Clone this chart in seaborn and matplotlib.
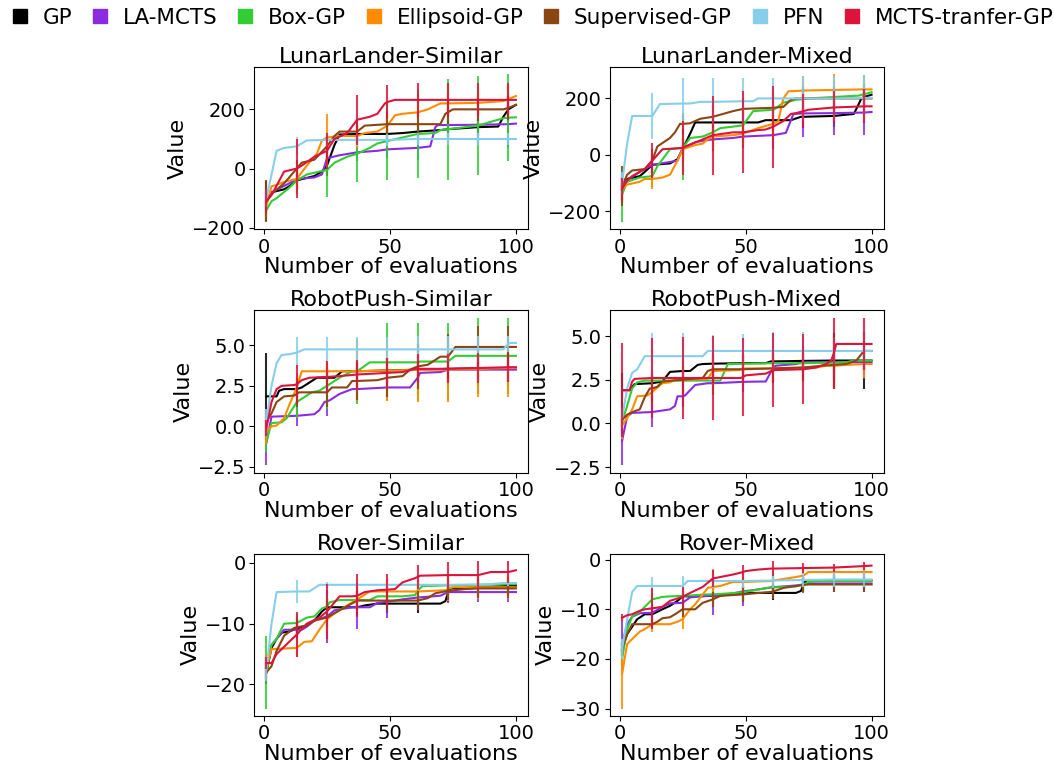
import numpy as np
import matplotlib
matplotlib.use("Agg")
import matplotlib.pyplot as plt
from matplotlib.lines import Line2D
from matplotlib.ticker import MultipleLocator
import seaborn as sns

# methods, colours and the evaluation steps that carry error bars
METHODS = ["GP", "LA-MCTS", "Box-GP", "Ellipsoid-GP", "Supervised-GP", "PFN", "MCTS-tranfer-GP"]
COLORS = ["black", "blueviolet", "limegreen", "darkorange", "saddlebrown", "skyblue", "crimson"]
CHECK = [1, 13, 25, 37, 49, 61, 73, 85, 97]

# ---- LunarLander-Similar ----
LL_SIM = {
    "GP": [(1, -110), (3, -80), (8, -70), (10, -60), (13, -40), (20, -25), (23, -10), (25, 10), (28, 80), (30, 115), (37, 117), (49, 117), (55, 120), (61, 125), (70, 130), (73, 133), (80, 137), (85, 140), (93, 142), (95, 175), (97, 200), (100, 215)],
    "LA-MCTS": [(1, -100), (3, -80), (10, -50), (13, -35), (20, -30), (23, -20), (25, 35), (30, 45), (37, 55), (45, 60), (49, 65), (61, 70), (66, 75), (68, 140), (69, 147), (73, 147), (85, 148), (97, 150), (100, 152)],
    "Box-GP": [(1, -140), (3, -110), (5, -100), (10, -65), (13, -40), (17, -20), (22, -10), (25, -5), (28, 20), (33, 40), (37, 50), (42, 70), (45, 85), (49, 93), (55, 105), (61, 117), (68, 120), (70, 130), (73, 133), (85, 145), (90, 158), (95, 170), (97, 172), (100, 173)],
    "Ellipsoid-GP": [(1, -125), (3, -60), (5, -55), (8, -45), (13, -35), (17, 10), (21, 50), (23, 95), (25, 105), (30, 110), (37, 110), (40, 120), (45, 125), (49, 145), (52, 180), (55, 185), (61, 190), (65, 200), (70, 220), (73, 220), (85, 222), (95, 228), (97, 235), (100, 245)],
    "Supervised-GP": [(1, -110), (3, -85), (8, -50), (13, 0), (15, 20), (20, 30), (25, 75), (28, 110), (30, 125), (37, 125), (40, 145), (49, 150), (61, 150), (70, 150), (72, 185), (73, 190), (75, 200), (85, 200), (95, 200), (97, 205), (100, 215)],
    "PFN": [(1, -100), (3, -20), (5, 60), (8, 70), (13, 75), (17, 95), (25, 97), (37, 97), (49, 97), (61, 100), (73, 100), (85, 100), (97, 100), (100, 100)],
    "MCTS-tranfer-GP": [(1, -110), (3, -90), (8, -10), (13, 0), (15, 10), (20, 40), (25, 60), (28, 100), (33, 120), (37, 165), (42, 175), (45, 185), (48, 220), (49, 225), (52, 232), (61, 232), (73, 232), (85, 232), (97, 232), (100, 232)],
}
LL_SIM_ERR = {
    "GP": [67, 30, 35, 30, 30, 30, 30, 30, 40],
    "LA-MCTS": [30, 20, 30, 30, 30, 40, 60, 70, 78],
    "Box-GP": [35, 45, 90, 95, 133, 150, 170, 168, 146],
    "Ellipsoid-GP": [40, 30, 80, 40, 40, 40, 40, 40, 40],
    "Supervised-GP": [70, 30, 40, 40, 40, 40, 40, 40, 40],
    "PFN": [30, 30, 20, 20, 20, 20, 20, 20, 20],
    "MCTS-tranfer-GP": [40, 100, 60, 85, 58, 58, 58, 58, 58],
}

# ---- LunarLander-Mixed ----
LL_MIX = {
    "GP": [(1, -125), (3, -85), (8, -75), (10, -60), (13, -35), (20, -30), (23, -15), (25, 20), (28, 75), (30, 115), (37, 115), (49, 115), (55, 115), (58, 123), (61, 123), (68, 123), (72, 135), (73, 135), (85, 138), (93, 145), (96, 200), (97, 205), (100, 213)],
    "LA-MCTS": [(1, -110), (3, -90), (8, -60), (13, -35), (20, -25), (23, -20), (25, 25), (30, 45), (33, 50), (37, 55), (45, 60), (49, 65), (61, 70), (66, 78), (69, 145), (73, 147), (85, 148), (97, 150), (100, 152)],
    "Box-GP": [(1, -140), (3, -95), (8, -80), (13, -75), (15, -40), (20, 20), (25, 25), (28, 60), (33, 65), (37, 80), (40, 95), (45, 100), (49, 105), (53, 155), (61, 160), (62, 165), (65, 185), (70, 195), (73, 198), (75, 200), (85, 205), (95, 210), (97, 215), (100, 222)],
    "Ellipsoid-GP": [(1, -120), (3, -105), (8, -95), (10, -85), (13, -85), (17, -80), (20, -70), (23, -20), (25, 20), (30, 35), (33, 40), (35, 55), (37, 65), (45, 70), (49, 75), (55, 95), (61, 110), (63, 120), (65, 200), (67, 225), (73, 228), (85, 230), (97, 232), (100, 232)],
    "Supervised-GP": [(1, -110), (3, -70), (5, -55), (10, -50), (13, -20), (15, 30), (20, 60), (22, 80), (24, 110), (25, 110), (28, 112), (32, 128), (37, 135), (45, 155), (49, 163), (61, 167), (65, 170), (68, 195), (70, 200), (73, 200), (85, 200), (97, 200), (100, 200)],
    "PFN": [(1, -100), (3, 40), (5, 138), (13, 138), (16, 180), (25, 182), (28, 182), (32, 188), (37, 188), (49, 190), (53, 190), (55, 200), (61, 200), (73, 200), (85, 200), (97, 202), (100, 202)],
    "MCTS-tranfer-GP": [(1, -120), (3, -90), (5, -75), (8, -60), (10, -50), (13, -20), (17, 20), (25, 25), (37, 70), (45, 80), (49, 80), (55, 88), (58, 90), (61, 100), (65, 120), (68, 145), (70, 148), (73, 155), (75, 160), (85, 168), (97, 172), (100, 172)],
}
LL_MIX_ERR = {
    "GP": [50, 30, 40, 40, 40, 40, 40, 40, 50],
    "LA-MCTS": [30, 20, 30, 40, 40, 50, 82, 78, 79],
    "Box-GP": [97, 40, 113, 60, 60, 60, 60, 60, 60],
    "Ellipsoid-GP": [40, 35, 40, 40, 40, 50, 52, 55, 52],
    "Supervised-GP": [70, 40, 40, 40, 40, 40, 40, 40, 40],
    "PFN": [40, 81, 90, 83, 83, 73, 81, 81, 81],
    "MCTS-tranfer-GP": [40, 62, 95, 140, 145, 145, 60, 60, 60],
}

# ---- RobotPush-Similar ----
RP_SIM = {
    "GP": [(1, 1.85), (5, 1.85), (6, 2.2), (8, 2.3), (13, 2.3), (15, 2.4), (18, 2.7), (21, 3.0), (25, 3.0), (28, 3.0), (31, 3.4), (37, 3.4), (49, 3.45), (61, 3.5), (73, 3.55), (85, 3.58), (97, 3.6), (100, 3.6)],
    "LA-MCTS": [(1, -1.0), (3, 0.6), (13, 0.65), (20, 0.75), (22, 1.0), (24, 1.5), (25, 1.55), (26, 1.6), (30, 2.0), (35, 2.3), (37, 2.3), (49, 2.4), (58, 2.4), (61, 3.0), (62, 3.3), (70, 3.35), (73, 3.5), (85, 3.5), (97, 3.5), (100, 3.5)],
    "Box-GP": [(1, -0.9), (3, 0.2), (7, 0.25), (9, 0.5), (11, 1.0), (13, 1.5), (16, 1.8), (19, 2.1), (22, 2.2), (25, 2.5), (27, 2.7), (30, 3.0), (35, 3.4), (37, 3.4), (42, 3.95), (49, 3.95), (61, 3.95), (62, 4.0), (73, 4.0), (76, 4.35), (85, 4.35), (97, 4.35), (100, 4.35)],
    "Ellipsoid-GP": [(1, -0.3), (3, 0.0), (5, 0.05), (8, 0.5), (10, 1.3), (13, 2.4), (15, 3.4), (25, 3.4), (37, 3.4), (49, 3.45), (61, 3.48), (73, 3.5), (85, 3.55), (97, 3.6), (100, 3.6)],
    "Supervised-GP": [(1, 0.3), (3, 0.8), (5, 1.5), (8, 1.85), (12, 1.9), (13, 2.0), (14, 2.1), (25, 2.1), (27, 2.4), (33, 2.4), (35, 2.8), (37, 2.8), (45, 2.85), (49, 3.0), (55, 3.1), (58, 3.5), (61, 3.7), (65, 3.8), (70, 4.3), (73, 4.3), (76, 4.9), (85, 4.9), (97, 4.9), (100, 4.9)],
    "PFN": [(1, 0.3), (3, 2.5), (5, 3.9), (7, 4.4), (10, 4.45), (13, 4.55), (16, 4.75), (25, 4.75), (37, 4.75), (49, 4.75), (61, 4.75), (73, 4.75), (85, 4.75), (95, 4.75), (97, 5.1), (98, 5.15), (100, 5.15)],
    "MCTS-tranfer-GP": [(1, -0.1), (3, 1.5), (5, 2.3), (7, 2.5), (12, 2.55), (13, 2.6), (15, 2.85), (18, 3.0), (25, 3.05), (30, 3.1), (37, 3.2), (49, 3.3), (55, 3.35), (60, 3.55), (61, 3.55), (73, 3.55), (85, 3.6), (97, 3.65), (100, 3.65)],
}
RP_SIM_ERR = {
    "GP": [2.7, 0.6, 0.6, 0.6, 0.8, 0.8, 0.8, 0.8, 0.8],
    "LA-MCTS": [1.4, 0.6, 0.9, 0.8, 0.8, 1.0, 1.0, 1.0, 1.0],
    "Box-GP": [0.7, 1.0, 1.4, 2.0, 2.4, 2.4, 2.35, 2.35, 2.35],
    "Ellipsoid-GP": [0.8, 0.9, 0.6, 1.85, 1.9, 2.0, 2.0, 1.75, 1.8],
    "Supervised-GP": [0.8, 0.8, 0.9, 1.2, 1.2, 1.4, 1.4, 1.3, 1.3],
    "PFN": [0.8, 0.95, 0.75, 0.75, 0.75, 0.8, 0.8, 0.8, 0.5],
    "MCTS-tranfer-GP": [0.5, 1.2, 1.0, 0.9, 0.9, 0.9, 0.9, 0.9, 0.9],
}

# ---- RobotPush-Mixed ----
RP_MIX = {
    "GP": [(1, 1.9), (4, 1.9), (6, 2.25), (13, 2.3), (17, 2.4), (20, 2.95), (25, 3.0), (28, 3.0), (31, 3.35), (33, 3.4), (37, 3.42), (49, 3.45), (58, 3.45), (60, 3.55), (61, 3.55), (73, 3.58), (85, 3.6), (97, 3.6), (100, 3.6)],
    "LA-MCTS": [(1, -1.0), (3, 0.4), (5, 0.6), (13, 0.65), (20, 0.8), (22, 1.0), (23, 1.55), (25, 1.55), (26, 1.6), (30, 2.2), (35, 2.3), (37, 2.3), (45, 2.35), (49, 2.38), (58, 2.4), (61, 3.2), (62, 3.3), (70, 3.4), (73, 3.5), (85, 3.5), (97, 3.5), (100, 3.5)],
    "Box-GP": [(1, 0.1), (3, 1.0), (5, 2.0), (7, 2.35), (10, 2.45), (13, 2.45), (25, 2.45), (37, 2.45), (40, 2.45), (43, 3.4), (49, 3.42), (61, 3.45), (73, 3.45), (85, 3.48), (90, 3.5), (93, 3.6), (97, 3.6), (100, 3.6)],
    "Ellipsoid-GP": [(1, -0.1), (3, 0.3), (5, 0.8), (7, 1.55), (11, 1.6), (13, 1.8), (17, 2.3), (20, 2.35), (22, 2.5), (25, 2.5), (35, 2.55), (37, 3.0), (47, 3.05), (49, 3.1), (50, 3.15), (61, 3.15), (73, 3.2), (78, 3.2), (82, 3.3), (85, 3.3), (90, 3.35), (97, 3.4), (100, 3.4)],
    "Supervised-GP": [(1, 0.2), (3, 0.5), (6, 0.7), (8, 0.8), (10, 1.5), (12, 2.0), (13, 2.0), (15, 2.1), (17, 2.4), (25, 2.5), (33, 2.6), (35, 3.0), (37, 3.1), (49, 3.1), (61, 3.15), (73, 3.2), (80, 3.3), (85, 3.35), (90, 3.4), (94, 3.6), (97, 4.15), (100, 4.15)],
    "PFN": [(1, 0.3), (3, 2.0), (5, 2.9), (7, 3.1), (10, 3.85), (13, 3.85), (25, 3.85), (33, 3.85), (35, 4.15), (37, 4.15), (49, 4.15), (61, 4.15), (73, 4.15), (85, 4.15), (97, 4.15), (100, 4.15)],
    "MCTS-tranfer-GP": [(1, 1.9), (4, 1.9), (5, 2.4), (6, 2.55), (13, 2.6), (25, 2.6), (37, 2.6), (48, 2.6), (49, 2.65), (50, 2.75), (58, 2.85), (61, 3.05), (73, 3.1), (78, 3.2), (82, 3.4), (84, 3.6), (85, 4.0), (86, 4.55), (97, 4.55), (100, 4.55)],
}
RP_MIX_ERR = {
    "GP": [1.0, 0.5, 0.6, 0.6, 0.6, 0.6, 0.6, 1.6, 1.65],
    "LA-MCTS": [1.4, 0.85, 0.6, 0.6, 0.6, 0.9, 0.9, 0.9, 0.95],
    "Box-GP": [0.8, 0.6, 0.6, 0.8, 0.6, 0.6, 0.6, 0.6, 0.6],
    "Ellipsoid-GP": [0.8, 0.7, 0.8, 0.8, 0.8, 0.8, 0.8, 0.8, 0.8],
    "Supervised-GP": [0.8, 0.8, 0.8, 0.8, 0.8, 0.8, 0.8, 1.4, 1.1],
    "PFN": [0.6, 1.3, 1.3, 0.9, 0.95, 1.1, 1.1, 0.8, 1.1],
    "MCTS-tranfer-GP": [2.7, 2.3, 2.35, 2.4, 2.25, 2.1, 2.0, 2.05, 1.5],
}

# ---- Rover-Similar ----
RV_SIM = {
    "GP": [(1, -18), (3, -14), (5, -12.5), (7, -11.5), (10, -11.3), (13, -10.8), (17, -10.3), (20, -9.5), (23, -8), (25, -7.3), (35, -7.3), (37, -7.3), (40, -7.0), (45, -6.7), (49, -6.7), (61, -6.7), (70, -6.7), (72, -6.3), (73, -5.0), (74, -4.2), (85, -4.0), (97, -3.8), (100, -3.8)],
    "LA-MCTS": [(1, -17), (3, -13.5), (5, -12.5), (8, -11), (13, -11), (15, -11), (17, -10.5), (20, -9.5), (25, -8.8), (28, -7.8), (35, -7.3), (37, -7.3), (42, -7.3), (45, -6.6), (49, -6.4), (55, -6.0), (61, -5.7), (70, -5.4), (72, -5.0), (73, -4.8), (85, -4.8), (97, -4.8), (100, -4.8)],
    "Box-GP": [(1, -18), (3, -13.5), (5, -12.5), (8, -10.0), (13, -9.9), (17, -9.0), (20, -8.8), (23, -7.5), (25, -7.2), (26, -6.5), (30, -6.1), (37, -6.1), (42, -6.1), (45, -5.5), (49, -5.5), (55, -5.5), (60, -5.3), (61, -4.5), (63, -3.8), (73, -3.7), (85, -3.6), (97, -3.5), (100, -3.5)],
    "Ellipsoid-GP": [(1, -17), (3, -14.2), (13, -14), (16, -13), (19, -12.9), (22, -11), (25, -9.3), (28, -8.3), (33, -7.0), (37, -6.0), (42, -4.7), (49, -4.7), (60, -4.7), (61, -4.7), (72, -4.5), (73, -4.3), (75, -4.0), (85, -4.0), (97, -4.0), (100, -4.0)],
    "Supervised-GP": [(1, -18), (3, -17), (5, -14.5), (8, -12), (12, -10.7), (13, -10.6), (17, -10.3), (20, -9.5), (25, -9.0), (30, -7.8), (37, -6.2), (49, -6.2), (60, -6.2), (61, -6.2), (65, -5.8), (68, -5.0), (73, -4.6), (80, -4.3), (85, -4.2), (97, -4.2), (100, -4.2)],
    "PFN": [(1, -17.5), (3, -10), (5, -4.8), (13, -4.7), (18, -4.7), (22, -3.6), (25, -3.6), (37, -3.6), (49, -3.6), (61, -3.6), (73, -3.6), (85, -3.55), (90, -3.5), (95, -3.3), (97, -3.3), (100, -3.3)],
    "MCTS-tranfer-GP": [(1, -16.5), (3, -16.5), (5, -15), (10, -13), (13, -11.8), (17, -10), (22, -9), (25, -8), (28, -6.5), (30, -5.5), (35, -5.5), (37, -5.4), (40, -4.8), (45, -4.5), (49, -4.4), (52, -4.3), (55, -3.2), (60, -2.5), (61, -2.3), (62, -2.1), (73, -2.0), (85, -2.0), (90, -1.5), (97, -1.5), (100, -1.2)],
}
RV_SIM_ERR = {
    "GP": [2.0, 1.5, 1.5, 1.5, 1.5, 1.5, 1.5, 1.5, 1.5],
    "LA-MCTS": [2.0, 1.5, 4.4, 3.5, 2.7, 2.0, 1.8, 1.7, 1.7],
    "Box-GP": [6.0, 1.5, 1.5, 1.5, 1.5, 1.5, 1.5, 1.5, 1.5],
    "Ellipsoid-GP": [2.0, 1.5, 2.0, 2.0, 2.0, 2.0, 2.0, 2.0, 2.0],
    "Supervised-GP": [1.5, 1.5, 1.5, 1.5, 1.5, 1.5, 1.5, 1.5, 1.5],
    "PFN": [2.0, 1.9, 0.5, 0.5, 0.5, 0.5, 0.5, 0.5, 0.5],
    "MCTS-tranfer-GP": [1.0, 3.7, 4.5, 3.5, 2.6, 2.0, 2.2, 2.3, 1.8],
}

# ---- Rover-Mixed ----
RV_MIX = {
    "GP": [(1, -18), (3, -15), (5, -13.5), (7, -12), (10, -11), (13, -11), (17, -10), (20, -9.3), (23, -8.3), (25, -7.4), (37, -7.3), (40, -7.2), (45, -7.0), (49, -6.8), (50, -6.7), (61, -6.7), (70, -6.7), (72, -6.3), (73, -5.0), (74, -4.2), (85, -4.2), (97, -4.2), (100, -4.2)],
    "LA-MCTS": [(1, -17), (3, -13), (5, -11.5), (8, -10.8), (13, -10.7), (17, -9.5), (20, -8.8), (25, -8.7), (28, -7.6), (35, -7.3), (37, -7.25), (40, -7.2), (45, -6.8), (49, -6.4), (55, -6.0), (60, -5.6), (61, -5.55), (70, -5.2), (73, -5.0), (75, -4.8), (85, -4.8), (97, -4.8), (100, -4.8)],
    "Box-GP": [(1, -20), (3, -14), (5, -11.5), (8, -10.5), (13, -8), (17, -7.5), (20, -7.4), (25, -7.3), (35, -7.0), (37, -7.0), (40, -6.9), (49, -6.6), (55, -6.0), (60, -5.6), (61, -5.6), (70, -5.4), (73, -5.0), (75, -4.5), (80, -4.3), (85, -4.3), (97, -4.3), (100, -4.3)],
    "Ellipsoid-GP": [(1, -23), (3, -17), (5, -16), (8, -14.5), (10, -14), (13, -13), (20, -13), (23, -12.5), (25, -12), (28, -10), (30, -9), (33, -7), (35, -5.7), (37, -5.5), (40, -5.3), (45, -4.5), (49, -4.5), (60, -4.3), (61, -4.2), (65, -3.9), (70, -3.5), (73, -3.2), (75, -2.5), (85, -2.5), (97, -2.5), (100, -2.5)],
    "Supervised-GP": [(1, -18), (3, -15), (5, -13), (13, -13), (15, -12.5), (17, -11.8), (20, -11.6), (22, -11), (25, -10), (30, -10), (33, -8.7), (37, -8), (40, -7.3), (49, -7.0), (60, -6.5), (61, -6.4), (65, -5.7), (70, -5.3), (73, -5.1), (75, -5.0), (85, -5.0), (97, -5.0), (100, -5.0)],
    "PFN": [(1, -18), (3, -12), (5, -6.5), (7, -5.3), (13, -5.3), (25, -5.3), (27, -4.3), (37, -4.3), (49, -4.3), (61, -4.2), (73, -4.1), (85, -4.0), (97, -4.0), (100, -4.0)],
    "MCTS-tranfer-GP": [(1, -11.7), (3, -11.2), (5, -11), (8, -10.3), (10, -10), (13, -9.8), (17, -9.5), (20, -8.3), (25, -7.5), (28, -6.7), (33, -5.5), (37, -3.8), (45, -3.0), (49, -2.5), (50, -2.3), (55, -2.0), (60, -1.8), (61, -1.8), (73, -1.7), (85, -1.6), (97, -1.3), (100, -1.2)],
}
RV_MIX_ERR = {
    "GP": [1.5, 1.5, 1.5, 1.5, 1.5, 1.5, 1.5, 1.5, 1.5],
    "LA-MCTS": [4.5, 1.5, 1.5, 3.8, 3.0, 2.2, 1.7, 1.7, 1.8],
    "Box-GP": [2.5, 1.5, 1.5, 1.5, 1.5, 1.5, 1.5, 1.5, 1.5],
    "Ellipsoid-GP": [7.0, 1.5, 2.0, 3.6, 2.0, 2.0, 1.5, 1.0, 1.0],
    "Supervised-GP": [1.5, 1.0, 1.5, 1.5, 1.5, 1.5, 1.5, 1.5, 1.5],
    "PFN": [2.0, 1.8, 2.0, 1.5, 1.5, 1.5, 1.5, 1.5, 1.5],
    "MCTS-tranfer-GP": [0.8, 4.0, 2.0, 1.8, 1.5, 1.5, 1.0, 0.8, 0.8],
}

panels = [
    ("LunarLander-Similar", LL_SIM, LL_SIM_ERR, 200),
    ("LunarLander-Mixed", LL_MIX, LL_MIX_ERR, 200),
    ("RobotPush-Similar", RP_SIM, RP_SIM_ERR, 2.5),
    ("RobotPush-Mixed", RP_MIX, RP_MIX_ERR, 2.5),
    ("Rover-Similar", RV_SIM, RV_SIM_ERR, 10),
    ("Rover-Mixed", RV_MIX, RV_MIX_ERR, 10),
]

fig, axes = plt.subplots(3, 2, figsize=(10.54, 7.67), dpi=100)
plt.subplots_adjust(left=0.241, right=0.8387, top=0.9126, bottom=0.0665, wspace=0.296, hspace=0.5)

for ax, (title, curves, errs, ystep) in zip(axes.flat, panels):
    for name, col in zip(METHODS, COLORS):
        pts = curves[name]
        xs = [p[0] for p in pts]
        ys = [p[1] for p in pts]
        sns.lineplot(x=xs, y=ys, color=col, linewidth=1.5, ax=ax, legend=False)
        lookup = dict(pts)
        cy = [lookup[c] for c in CHECK]
        ax.errorbar(CHECK, cy, yerr=errs[name], fmt="none", ecolor=col, elinewidth=1.5, alpha=0.85)
    ax.set_title(title, fontsize=16, pad=3)
    ax.set_xlabel("Number of evaluations", fontsize=16, labelpad=0.5)
    ax.set_ylabel("Value", fontsize=16, labelpad=3)
    ax.xaxis.set_major_locator(MultipleLocator(50))
    ax.yaxis.set_major_locator(MultipleLocator(ystep))
    ax.tick_params(labelsize=14, pad=2.5)

handles = [Line2D([], [], marker="s", linestyle="none", color=c, markersize=10) for c in COLORS]
fig.legend(handles, METHODS, loc="upper center", bbox_to_anchor=(0.504, 1.015), ncol=7, frameon=False,
           fontsize=15.5, handlelength=1.0, handletextpad=0.55, columnspacing=0.8)

fig.savefig("out.png", dpi=100)
